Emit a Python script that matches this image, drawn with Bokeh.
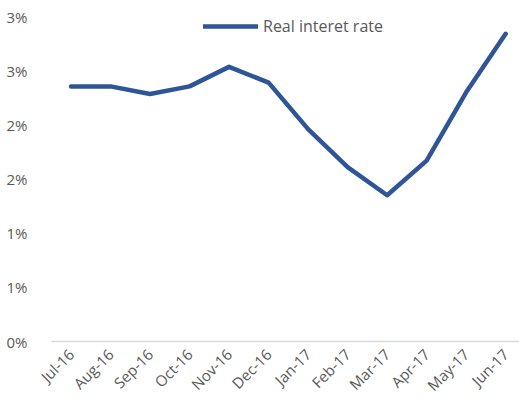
from bokeh.plotting import figure
from bokeh.models import Range1d, FixedTicker, Legend, LegendItem
from bokeh.embed import file_html
from bokeh.resources import INLINE

months = ["Jul-16", "Aug-16", "Sep-16", "Oct-16", "Nov-16", "Dec-16",
          "Jan-17", "Feb-17", "Mar-17", "Apr-17", "May-17", "Jun-17"]
real_rate = [2.355, 2.355, 2.285, 2.355, 2.535, 2.39,
             1.96, 1.61, 1.35, 1.67, 2.30, 2.84]
y_ticks = [0, 0.5, 1.0, 1.5, 2.0, 2.5, 3.0]
y_tick_labels = ["0%", "1%", "1%", "2%", "2%", "3%", "3%"]

idx = list(range(len(months)))

p = figure(width=519, height=404, output_backend="svg", toolbar_location=None,
           x_range=Range1d(-0.494, 11.35), y_range=Range1d(0, 3.0),
           min_border_left=51, min_border_right=0, min_border_top=16,
           min_border_bottom=61)
p.outline_line_color = None
p.background_fill_color = "white"
p.border_fill_color = "white"

r = p.line(idx, real_rate, line_color="#2F5597", line_width=4.5,
           line_join="round", line_cap="round")

# axes
p.xaxis.ticker = FixedTicker(ticks=idx)
p.xaxis.major_label_overrides = {i: m for i, m in zip(idx, months)}
p.xaxis.major_label_orientation = 0.785398
p.xaxis.axis_line_color = "#D9D9D9"
p.xaxis.axis_line_width = 1.5
p.xaxis.major_tick_line_color = None
p.xaxis.minor_tick_line_color = None
p.xaxis.major_label_text_color = "#595959"
p.xaxis.major_label_text_font = "Open Sans"
p.xaxis.major_label_text_font_size = "15px"
p.xaxis.major_label_standoff = 4

p.yaxis.ticker = FixedTicker(ticks=y_ticks)
p.yaxis.major_label_overrides = {t: l for t, l in zip(y_ticks, y_tick_labels)}
p.yaxis.axis_line_color = None
p.yaxis.major_tick_line_color = None
p.yaxis.minor_tick_line_color = None
p.yaxis.major_label_text_color = "#595959"
p.yaxis.major_label_text_font = "Open Sans"
p.yaxis.major_label_text_font_size = "15px"
p.yaxis.major_label_standoff = 18

p.xgrid.grid_line_color = None
p.ygrid.grid_line_color = None

legend = Legend(items=[LegendItem(label="Real interet rate", renderers=[r])],
                location=(152, 303), padding=0, margin=0,
                glyph_width=55, glyph_height=24, label_height=24,
                label_width=140, label_standoff=5, border_line_color=None,
                background_fill_alpha=0,
                label_text_font="Open Sans", label_text_font_size="16px",
                label_text_color="#595959")
p.add_layout(legend)

open("out.html", "w").write(file_html(p, INLINE))
